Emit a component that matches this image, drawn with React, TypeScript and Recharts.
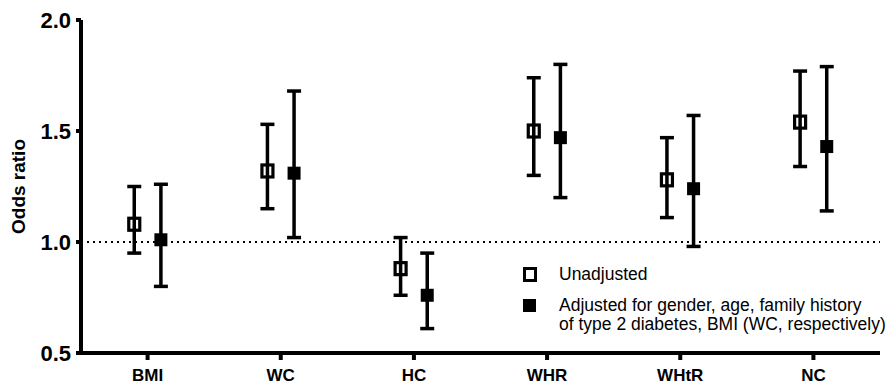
import React from 'react';
import {
  ComposedChart, Scatter, ErrorBar, XAxis, YAxis, ReferenceLine, Label,
} from 'recharts';

const categories = ['BMI', 'WC', 'HC', 'WHR', 'WHtR', 'NC'];

// odds ratio with 95% CI, crude model
const unadjustedOR = [1.08, 1.32, 0.88, 1.5, 1.28, 1.54];
const unadjustedLow = [0.95, 1.15, 0.76, 1.3, 1.11, 1.34];
const unadjustedHigh = [1.25, 1.53, 1.02, 1.74, 1.47, 1.77];

// odds ratio with 95% CI, adjusted model
const adjustedOR = [1.01, 1.31, 0.76, 1.47, 1.24, 1.43];
const adjustedLow = [0.8, 1.02, 0.61, 1.2, 0.98, 1.14];
const adjustedHigh = [1.26, 1.68, 0.95, 1.8, 1.57, 1.79];

const yTicks = [0.5, 1.0, 1.5, 2.0];

const FONT = '"Liberation Sans", Arial, sans-serif';
const SHIFT = 0.1; // side-by-side offset within each category

const buildRows = (or: number[], low: number[], high: number[], shift: number) =>
  or.map((v, i) => ({ x: i + shift, y: v, err: [v - low[i], high[i] - v] }));

const unadjustedRows = buildRows(unadjustedOR, unadjustedLow, unadjustedHigh, -SHIFT);
const adjustedRows = buildRows(adjustedOR, adjustedLow, adjustedHigh, SHIFT);

const OpenSquare = (props: any) => {
  const { cx, cy } = props;
  return <rect x={cx - 5.5} y={cy - 6} width={11} height={12} fill="none" stroke="#000" strokeWidth={3.2} />;
};

const FilledSquare = (props: any) => {
  const { cx, cy } = props;
  return <rect x={cx - 6.5} y={cy - 6.5} width={13} height={13} fill="#000" />;
};

const XTick = (props: any) => {
  const { x, y, payload } = props;
  return (
    <text x={x} y={y} dy="0.71em" textAnchor="middle" fontFamily={FONT} fontWeight="bold" fontSize={17} fill="#000">
      {categories[payload.value]}
    </text>
  );
};

const YTick = (props: any) => {
  const { x, y, payload } = props;
  return (
    <text x={x} y={y} dy="0.355em" textAnchor="end" fontFamily={FONT} fontWeight="bold" fontSize={22} fill="#000">
      {payload.value.toFixed(1)}
    </text>
  );
};

const YTitle = (props: any) => {
  const { viewBox } = props;
  const cy = viewBox.y + viewBox.height / 2;
  return (
    <text
      transform={`translate(18.5, ${cy}) rotate(-90)`}
      textAnchor="middle"
      dominantBaseline="central"
      fontFamily={FONT}
      fontWeight="bold"
      fontSize={19}
      fill="#000"
    >
      Odds ratio
    </text>
  );
};

const legendRow: React.CSSProperties = { display: 'flex', alignItems: 'flex-start' };

function ChartLegend() {
  return (
    <div style={{ position: 'absolute', left: 523, top: 265, fontFamily: FONT, fontSize: 17.5, lineHeight: '19.5px', color: '#000' }}>
      <div style={legendRow}>
        <div style={{ width: 8, height: 9, border: '3px solid #000', marginTop: 2 }} />
        <div style={{ marginLeft: 22 }}>Unadjusted</div>
      </div>
      <div style={{ ...legendRow, marginTop: 11 }}>
        <div style={{ width: 13, height: 13, background: '#000', marginTop: 3 }} />
        <div style={{ marginLeft: 23 }}>
          Adjusted for gender, age, family history
          <br />
          of type 2 diabetes, BMI (WC, respectively)
        </div>
      </div>
    </div>
  );
}

export default function App() {
  return (
    <div style={{ position: 'absolute', left: 0, top: 0, width: 891, height: 384, background: '#fff' }}>
      <ComposedChart width={891} height={384} margin={{ top: 20, right: 11, bottom: 0, left: 0 }}>
        <XAxis
          type="number"
          dataKey="x"
          domain={[-0.5, 5.5]}
          ticks={[0, 1, 2, 3, 4, 5]}
          interval={0}
          height={31}
          tick={<XTick />}
          tickSize={7}
          tickMargin={9}
          axisLine={{ stroke: '#000', strokeWidth: 4 }}
          tickLine={{ stroke: '#000', strokeWidth: 4 }}
        />
        <YAxis
          type="number"
          dataKey="y"
          domain={[0.5, 2]}
          ticks={yTicks}
          interval={0}
          width={81}
          tick={<YTick />}
          tickSize={5}
          tickMargin={5}
          axisLine={{ stroke: '#000', strokeWidth: 4 }}
          tickLine={{ stroke: '#000', strokeWidth: 4 }}
        >
          <Label content={<YTitle />} />
        </YAxis>
        <ReferenceLine y={1} stroke="#000" strokeWidth={2} strokeDasharray="2 4" />
        <Scatter name="Unadjusted" data={unadjustedRows} shape={<OpenSquare />} isAnimationActive={false}>
          <ErrorBar dataKey="err" direction="y" width={7} stroke="#000" strokeWidth={3.5} isAnimationActive={false} />
        </Scatter>
        <Scatter name="Adjusted" data={adjustedRows} shape={<FilledSquare />} isAnimationActive={false}>
          <ErrorBar dataKey="err" direction="y" width={7} stroke="#000" strokeWidth={3.5} isAnimationActive={false} />
        </Scatter>
      </ComposedChart>
      <ChartLegend />
    </div>
  );
}
